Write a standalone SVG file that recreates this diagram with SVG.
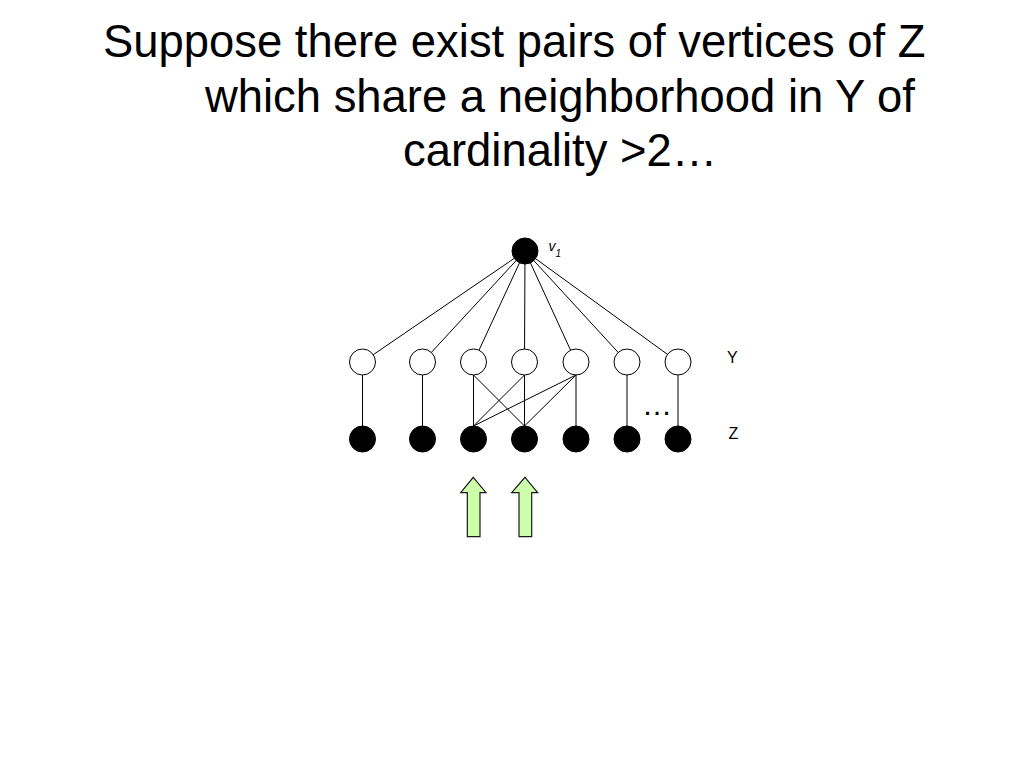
<svg xmlns="http://www.w3.org/2000/svg" width="1024" height="768" viewBox="0 0 1024 768">
<style>
.t{font-family:"Liberation Sans",Arial,sans-serif;fill:#000}
.e{stroke:#000;stroke-width:1;fill:none}
.y{fill:#fff;stroke:#000;stroke-width:1}
.z{fill:#000;stroke:#000;stroke-width:1}
.ar{fill:#ccffaa;stroke:#1a1a1a;stroke-width:1.2;stroke-linejoin:miter}
</style>
<rect width="1024" height="768" fill="#fff"/>
<g id="title" class="t" font-size="45.4">
<text x="103" y="57">Suppose there exist pairs of vertices of Z</text>
<text x="205" y="111.5">which share a neighborhood in Y of</text>
<text x="403" y="165.5">cardinality &gt;2…</text>
</g>
<g id="connectors" class="e">
<line x1="525" y1="251" x2="362.5" y2="362"/>
<line x1="525" y1="251" x2="422.5" y2="362"/>
<line x1="525" y1="251" x2="473.5" y2="362"/>
<line x1="525" y1="251" x2="524.5" y2="362"/>
<line x1="525" y1="251" x2="576" y2="362"/>
<line x1="525" y1="251" x2="627" y2="362"/>
<line x1="525" y1="251" x2="678" y2="362"/>
<line x1="362.5" y1="362" x2="362.5" y2="439"/>
<line x1="422.5" y1="362" x2="422.5" y2="439"/>
<line x1="473.5" y1="362" x2="473.5" y2="439"/>
<line x1="524.5" y1="362" x2="524.5" y2="439"/>
<line x1="576" y1="362" x2="576" y2="439"/>
<line x1="627" y1="362" x2="627" y2="439"/>
<line x1="678" y1="362" x2="678" y2="439"/>
<line x1="473.5" y1="375" x2="524.5" y2="426"/>
<line x1="524.5" y1="375" x2="473.5" y2="426"/>
<line x1="576" y1="375" x2="473.5" y2="426"/>
<line x1="576" y1="375" x2="524.5" y2="426"/>
</g>
<g id="v1"><circle class="z" cx="525" cy="251" r="13"/>
<text class="t" x="548.5" y="251" font-size="14" font-style="italic">v</text>
<text class="t" x="555.5" y="256.5" font-size="10" font-style="italic">1</text></g>
<g id="y1"><circle class="y" cx="362.5" cy="362" r="13"/></g>
<g id="y2"><circle class="y" cx="422.5" cy="362" r="13"/></g>
<g id="y3"><circle class="y" cx="473.5" cy="362" r="13"/></g>
<g id="y4"><circle class="y" cx="524.5" cy="362" r="13"/></g>
<g id="y5"><circle class="y" cx="576" cy="362" r="13"/></g>
<g id="y6"><circle class="y" cx="627" cy="362" r="13"/></g>
<g id="y7"><circle class="y" cx="678" cy="362" r="13"/></g>
<g id="z1"><circle class="z" cx="362.5" cy="439" r="13"/></g>
<g id="z2"><circle class="z" cx="422.5" cy="439" r="13"/></g>
<g id="z3"><circle class="z" cx="473.5" cy="439" r="13"/></g>
<g id="z4"><circle class="z" cx="524.5" cy="439" r="13"/></g>
<g id="z5"><circle class="z" cx="576" cy="439" r="13"/></g>
<g id="z6"><circle class="z" cx="627" cy="439" r="13"/></g>
<g id="z7"><circle class="z" cx="678" cy="439" r="13"/></g>
<g id="labels" class="t">
<text x="727" y="363.3" font-size="16">Y</text>
<text x="728.5" y="439" font-size="16">Z</text>
<text x="642" y="415" font-size="30">…</text>
</g>
<g id="arrow1"><polygon class="ar" points="473.3,477.3 486,492.7 480,492.7 480,536.7 467.3,536.7 467.3,492.7 460.7,492.7"/></g>
<g id="arrow2"><polygon class="ar" points="525,477.3 537.7,492.7 531.7,492.7 531.7,536.7 519,536.7 519,492.7 511.7,492.7"/></g>
</svg>
